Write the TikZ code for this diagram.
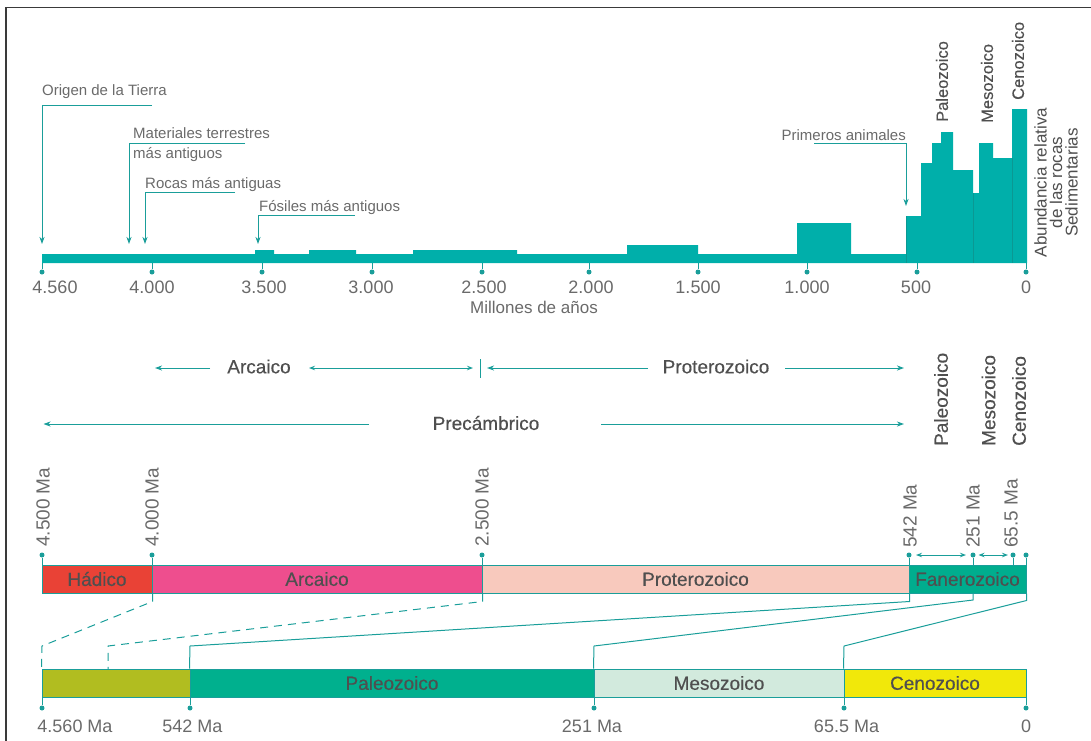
\documentclass[tikz,border=0pt]{standalone}
\usepackage{fontspec}
\setmainfont{Liberation Sans}
\newfontfamily\medfont{Liberation Sans}[FakeBold=0.35]
\usetikzlibrary{arrows.meta}
\definecolor{hist}{HTML}{00AFAA}
\definecolor{histd}{HTML}{0A9893}
\definecolor{tline}{HTML}{1A9E9A}
\definecolor{txt}{HTML}{4F4F4F}
\definecolor{txtl}{HTML}{6A6A6A}
\definecolor{frame}{HTML}{3A3A3A}
\definecolor{hadc}{HTML}{E94236}
\definecolor{arcc}{HTML}{EE4E8E}
\definecolor{proc}{HTML}{F8C9BD}
\definecolor{fanc}{HTML}{00AD8E}
\definecolor{olic}{HTML}{B1BD20}
\definecolor{palc}{HTML}{00B08E}
\definecolor{mesc}{HTML}{D2EADD}
\definecolor{cenc}{HTML}{F1E80A}
\begin{document}
\begin{tikzpicture}[x=1pt,y=-1pt,
  lbl/.style={font=\fontsize{15}{20}\selectfont, text=txtl, inner sep=0pt},
  num/.style={font=\fontsize{18}{20}\selectfont, text=txtl, inner sep=0pt},
  era/.style={font=\medfont\fontsize{19}{22}\selectfont, text=txt, inner sep=0pt},
  vera/.style={font=\medfont\fontsize{19}{22}\selectfont, text=txt, inner sep=0pt, rotate=90, anchor=west},
  vtop/.style={font=\medfont\fontsize{16.5}{19}\selectfont, text=txt, inner sep=0pt, rotate=90, anchor=west},
  vdate/.style={font=\fontsize{19}{22}\selectfont, text=txtl, inner sep=0pt, rotate=90, anchor=west},
  ln/.style={draw=tline, line width=1pt},
  arr/.style={ln, -{Stealth[length=7pt,width=5pt,inset=2pt]}},
  darr/.style={ln, {Stealth[length=6pt,width=4.5pt,inset=2pt]}-{Stealth[length=6pt,width=4.5pt,inset=2pt]}},
  dot/.style={circle, fill=tline, inner sep=0pt, minimum size=5pt},
  seg/.style={draw=tline, line width=1pt, minimum height=28pt, inner sep=0pt, font=\medfont\fontsize{19}{22}\selectfont, text=txt},
  dash8/.style={ln, dash pattern=on 8pt off 6pt},
]
\useasboundingbox (0,0) rectangle (1091,740);
% frame
\draw[frame, line width=1.5pt] (6,745) -- (6,7.5) -- (1096,7.5);

% ---------- histogram ----------
\fill[hist] (42,263) -- (42,254) -- (255,254) -- (255,250) -- (274,250) -- (274,254)
  -- (309,254) -- (309,250) -- (356,250) -- (356,254) -- (413,254) -- (413,250)
  -- (517,250) -- (517,254) -- (627,254) -- (627,245) -- (698,245) -- (698,254)
  -- (797,254) -- (797,223) -- (851,223) -- (851,254) -- (906,254) -- (906,216)
  -- (921,216) -- (921,163) -- (932,163) -- (932,143) -- (941,143) -- (941,132)
  -- (953,132) -- (953,170) -- (973,170) -- (973,193) -- (979,193) -- (979,143)
  -- (993,143) -- (993,158) -- (1012,158) -- (1012,109) -- (1027,109) -- (1027,263) -- cycle;
\draw[histd, line width=0.6pt] (906,216) -- (906,263) (973,193) -- (973,263) (1012,158) -- (1012,263);

% axis ticks and numbers
\foreach \x [count=\i] in {42,152,262,372,482,589,698,807,917,1026} {
  \node[dot] (tk\i) at (\x,272) {};
  \draw[ln] (\x,263) -- (tk\i);
}
\foreach \x/\t [count=\i] in {55/4.560,152/4.000,264/3.500,371/3.000,484/2.500,591/2.000,698/1.500,807/1.000,916/500,1026/0} {
  \node[num] (nm\i) at (\x,287.5) {\t};
}
\node[num, font=\fontsize{17}{20}\selectfont, anchor=base] (mill) at (534,313) {Millones de años};

% annotations
\node[lbl, anchor=base west] (origen) at (42,95) {Origen de la Tierra};
\coordinate (oe) at (152,105); \coordinate (ot) at (42,244);
\draw[arr] (oe) -| (ot);
\node[lbl, anchor=north west, align=left] (mat) at (133,127) {Materiales terrestres\\más antiguos};
\coordinate (me) at (245,143); \coordinate (mt) at (129,244);
\draw[arr] (me) -| (mt);
\node[lbl, anchor=base west] (rocas) at (145,188) {Rocas más antiguas};
\coordinate (re) at (235,192); \coordinate (rt) at (145,244);
\draw[arr] (re) -| (rt);
\node[lbl, anchor=base west] (fos) at (259,211) {Fósiles más antiguos};
\coordinate (fe) at (355,215); \coordinate (ft) at (258,244);
\draw[arr] (fe) -| (ft);
\node[lbl, anchor=base east] (prim) at (906,140) {Primeros animales};
\coordinate (pe) at (814,143); \coordinate (pt) at (906,206);
\draw[arr] (pe) -| (pt);

% vertical labels top right
\node[vtop] (tpal) at (942,122) {Paleozoico};
\node[vtop] (tmes) at (987,123) {Mesozoico};
\node[vtop] (tcen) at (1018,100) {Cenozoico};
\node[font=\fontsize{17}{15.5}\selectfont, text=txt, inner sep=0pt, rotate=90, align=center] (abund) at (1056,182.5) {Abundancia relativa\\de las rocas\\Sedimentarias};

% ---------- eras row ----------
\node[era] (arcl) at (259,366.5) {Arcaico};
\coordinate (a1) at (210,368); \coordinate (a1t) at (155,368);
\draw[arr] (a1) -- (a1t);
\coordinate (a2) at (309,368); \coordinate (a3) at (473,368);
\draw[darr] (a2) -- (a3);
\coordinate (bt) at (480,359); \coordinate (bb) at (480,378);
\draw[ln] (bt) -- (bb);
\node[era] (prol) at (716,366.5) {Proterozoico};
\coordinate (p1) at (648,368); \coordinate (p1t) at (487,368);
\draw[arr] (p1) -- (p1t);
\coordinate (p2) at (785,368); \coordinate (p2t) at (904,368);
\draw[arr] (p2) -- (p2t);

\node[era] (prec) at (486,423) {Precámbrico};
\coordinate (c1) at (369,424); \coordinate (c1t) at (43.5,424);
\draw[arr] (c1) -- (c1t);
\coordinate (c2) at (601,424); \coordinate (c2t) at (904,424);
\draw[arr] (c2) -- (c2t);

\node[vera] (mpal) at (941,446) {Paleozoico};
\node[vera] (mmes) at (988.5,446) {Mesozoico};
\node[vera] (mcen) at (1019,446) {Cenozoico};

% date labels
\node[vdate] (d4500) at (43,547) {4.500 Ma};
\node[vdate] (d4000) at (152,547) {4.000 Ma};
\node[vdate] (d2500) at (482,547) {2.500 Ma};
\node[vdate] (d542) at (910,548) {542 Ma};
\node[vdate] (d251) at (973,548) {251 Ma};
\node[vdate] (d655) at (1011,548) {65.5 Ma};

% ---------- bar 1 ----------
\node[seg, fill=hadc, minimum width=110pt] (had) at (97,579) {Hádico};
\node[seg, fill=arcc, minimum width=330pt] (arc) at (317,579) {Arcaico};
\node[seg, fill=proc, minimum width=427pt] (pro) at (695.5,579) {Proterozoico};
\node[seg, fill=fanc, minimum width=117pt] (fan) at (967.5,579) {Fanerozoico};

\foreach \x [count=\i] in {42,152,482,909,973,1013,1026} {
  \node[dot] (ud\i) at (\x,555) {};
  \draw[ln] (ud\i) -- (\x,565);
}
\draw[darr] (916,555) -- (966,555);
\draw[darr] (978.5,555) -- (1008,555);

% ---------- bar 2 ----------
\node[seg, fill=olic, minimum width=148pt] (oli) at (116,683) {};
\node[seg, fill=palc, minimum width=404pt] (pal) at (392,683) {Paleozoico};
\node[seg, fill=mesc, minimum width=250pt] (mes) at (719,683) {Mesozoico};
\node[seg, fill=cenc, minimum width=182pt] (cen) at (935,683) {Cenozoico};

% connectors between bars
\coordinate (k1) at (42,646);
\draw[dash8] (had.south east) -- ++(0,8) -- (k1) -- (oli.north west);
\coordinate (k2) at (108,646); \coordinate (k2b) at (108,669);
\draw[dash8] (arc.south east) -- ++(0,8) -- (k2) -- (k2b);
\coordinate (k3) at (190,646);
\draw[ln] (pro.south east) -- ++(0,8) -- (k3) -- (pal.north west);
\coordinate (k4) at (594,646); \coordinate (k4a) at (973,593);
\draw[ln] (k4a) -- ++(0,7) -- (k4) -- (mes.north west);
\coordinate (k5) at (844,646);
\draw[ln] (fan.south east) -- ++(0,7) -- (k5) -- (cen.north west);

% bottom ticks and labels
\foreach \x [count=\i] in {42,190,594,844,1026} {
  \node[dot] (bd\i) at (\x,708) {};
  \draw[ln] (\x,697) -- (bd\i);
}
\node[num] (b1) at (75,726) {4.560 Ma};
\node[num] (b2) at (192.5,726) {542 Ma};
\node[num] (b3) at (592,726) {251 Ma};
\node[num] (b4) at (846.5,726) {65.5 Ma};
\node[num] (b5) at (1026,726) {0};
\end{tikzpicture}
\end{document}
